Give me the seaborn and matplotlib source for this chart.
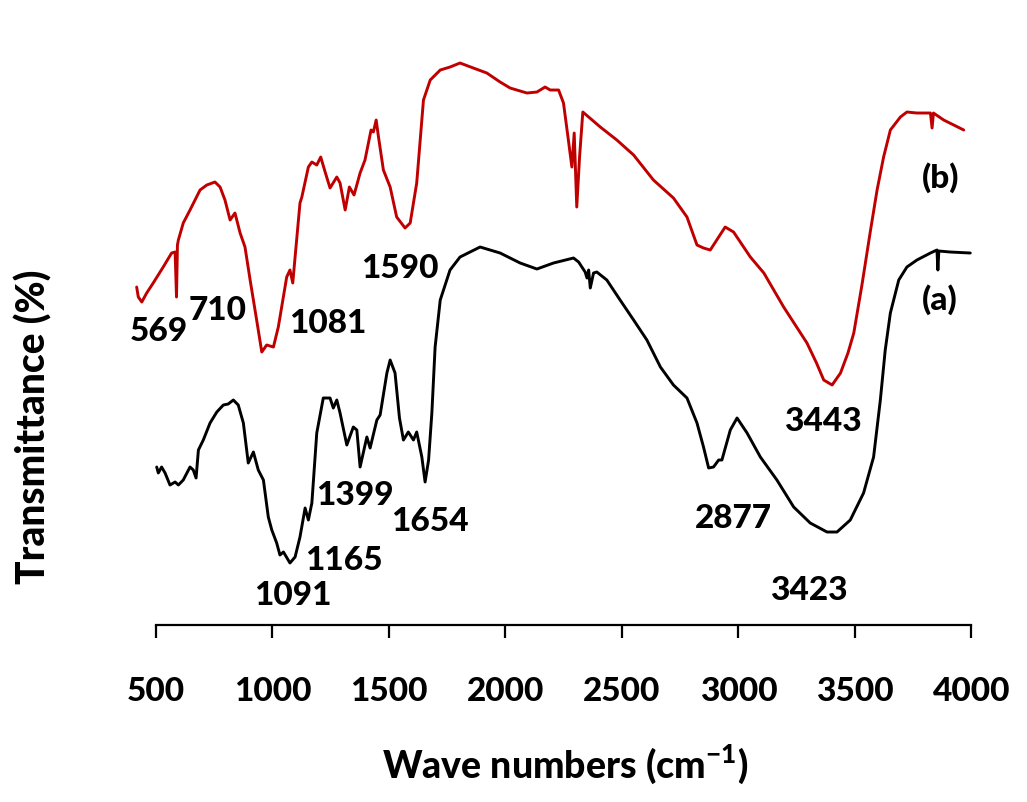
import numpy as np
import pandas as pd
import matplotlib
matplotlib.use('Agg')
import matplotlib.pyplot as plt
import seaborn as sns

# Curve (a), black: wave number (cm-1) and transmittance (arbitrary units)
wn_a = [503, 510, 524, 539, 560, 582, 596, 617, 646, 660, 672, 682, 703, 732, 761, 789,
        810, 832, 853, 875, 896, 918, 939, 961, 982, 997, 1018, 1032, 1047, 1075, 1097,
        1118, 1140, 1154, 1169, 1190, 1218, 1247, 1261, 1276, 1290, 1319, 1347, 1362,
        1376, 1405, 1419, 1448, 1462, 1491, 1505, 1526, 1545, 1562, 1583, 1605, 1619,
        1641, 1655, 1670, 1684, 1698, 1720, 1762, 1805, 1891, 1977, 2063, 2135, 2206,
        2292, 2314, 2342, 2350, 2357, 2364, 2378, 2392, 2435, 2492, 2550, 2607, 2665,
        2721, 2779, 2822, 2850, 2872, 2893, 2915, 2929, 2965, 2994, 3037, 3094, 3165,
        3237, 3308, 3380, 3423, 3480, 3537, 3580, 3609, 3630, 3652, 3688, 3723, 3766,
        3824, 3852, 3856, 3860, 3909, 3995]
t_a = [158, 152, 158, 152, 140, 143, 140, 145, 158, 155, 147, 175, 185, 202, 213, 220,
       221, 225, 220, 202, 162, 173, 155, 145, 108, 95, 82, 70, 73, 62, 68,
       88, 117, 105, 122, 192, 227, 227, 217, 225, 212, 180, 198, 195,
       158, 188, 177, 205, 210, 252, 265, 252, 207, 185, 193, 185, 193,
       168, 143, 165, 212, 278, 325, 355, 368, 378, 372, 362, 356, 362,
       367, 363, 353, 347, 355, 337, 352, 353, 345, 325, 305, 285, 258,
       240, 227, 202, 178, 157, 158, 165, 165, 195, 207, 192, 168, 145,
       118, 102, 93, 93, 105, 132, 168, 225, 275, 312, 345, 358, 365,
       372, 375, 355, 374, 373, 372]

# Curve (b), red
wn_b = [417, 424, 439, 460, 488, 531, 567, 582, 588, 592, 596, 617, 646, 689, 718, 753,
        775, 796, 818, 839, 861, 882, 904, 932, 954, 975, 1004, 1025, 1061, 1075, 1087,
        1097, 1118, 1126, 1154, 1169, 1190, 1207, 1226, 1247, 1276, 1290, 1312, 1330,
        1350, 1376, 1397, 1423, 1433, 1445, 1455, 1476, 1493, 1505, 1533, 1569, 1591,
        1619, 1641, 1648, 1677, 1720, 1762, 1805, 1862, 1920, 1977, 2020, 2092, 2135,
        2170, 2192, 2228, 2249, 2270, 2285, 2295, 2306, 2318, 2332, 2407, 2478, 2550,
        2635, 2721, 2779, 2822, 2850, 2879, 2943, 2979, 3051, 3109, 3194, 3294, 3335,
        3366, 3402, 3438, 3470, 3495, 3530, 3567, 3595, 3623, 3652, 3695, 3723, 3766,
        3824, 3831, 3837, 3881, 3967]
t_b = [338, 328, 323, 332, 342, 358, 372, 373, 328, 380, 385, 402, 415, 435, 440, 443,
       438, 425, 405, 412, 392, 378, 345, 305, 273, 280, 278, 298, 348, 355, 342,
       368, 422, 428, 458, 463, 460, 468, 453, 437, 448, 442, 415, 438,
       430, 452, 465, 495, 493, 505, 488, 455, 445, 438, 408, 397, 402,
       442, 505, 525, 545, 555, 558, 562, 557, 552, 543, 537, 532, 533,
       538, 535, 535, 522, 485, 458, 492, 418, 468, 513, 498, 485, 470,
       445, 427, 408, 380, 377, 375, 398, 393, 368, 352, 318, 282, 262,
       245, 240, 252, 272, 292, 340, 395, 435, 468, 495, 508, 513, 512,
       512, 497, 512, 505, 495]

# Peak labels: text, x (cm-1), y
peak_text = ['569', '710', '1081', '1590', '3443',
             '1399', '1654', '1165', '1091', '2877', '3423']
peak_x = [513, 766, 1239, 1548, 3364, 1355, 1677, 1307, 1088, 2978, 3300]
peak_y = [294, 315, 302, 357, 204, 130, 104, 65, 29, 107, 34]

sample_text = ['(b)', '(a)']
sample_x = [3866, 3866]
sample_y = [447, 325]

ticks = [500, 1000, 1500, 2000, 2500, 3000, 3500, 4000]

sns.set_style('white')
plt.rcParams['font.family'] = ['Lato', 'DejaVu Sans']
plt.rcParams['text.color'] = 'black'
plt.rcParams['axes.labelcolor'] = 'black'
plt.rcParams['xtick.color'] = 'black'
plt.rcParams['mathtext.fontset'] = 'custom'
plt.rcParams['mathtext.rm'] = 'Lato:black'
plt.rcParams['mathtext.bf'] = 'Lato:black'

df_a = pd.DataFrame({'wn': wn_a, 't': t_a})
df_b = pd.DataFrame({'wn': wn_b, 't': t_b})

fig = plt.figure(figsize=(10.27, 8.02), dpi=100)
ax = fig.add_axes([0.1519, 0.2207, 0.794, 0.7294])

sns.lineplot(data=df_a, x='wn', y='t', color='black', lw=2.1, sort=False, ax=ax)
sns.lineplot(data=df_b, x='wn', y='t', color='#C00000', lw=2.1, sort=False, ax=ax)
for line in ax.lines:
    line.set_clip_on(False)

W = 'black'
for s, x, y in zip(peak_text, peak_x, peak_y):
    ax.text(x, y, s, fontsize=24, fontweight=W, ha='center', va='center')
for s, x, y in zip(sample_text, sample_x, sample_y):
    ax.text(x, y, s, fontsize=24, fontweight=W, ha='center', va='center')

ax.set_xlim(500, 4000)
ax.set_ylim(0, 585)
ax.set_xticks(ticks)
ax.set_xticklabels([str(t) for t in ticks], fontsize=24, fontweight=W)
ax.set_yticks([])
for side in ['top', 'right', 'left']:
    ax.spines[side].set_visible(False)
ax.spines['bottom'].set_linewidth(1.6)
ax.spines['bottom'].set_color('black')
ax.tick_params(axis='x', direction='out', length=9.5, width=1.6, color='black',
               pad=28, bottom=True)

ax.set_xlabel('Wave numbers (cm$^{-1}$)', fontsize=27, fontweight=W)
ax.set_ylabel('Transmittance (%)', fontsize=28, fontweight=W)
ax.xaxis.set_label_coords(0.502, -0.2)
ax.yaxis.set_label_coords(-0.1275, 0.338)

fig.savefig('out.png', dpi=100, facecolor='white')
